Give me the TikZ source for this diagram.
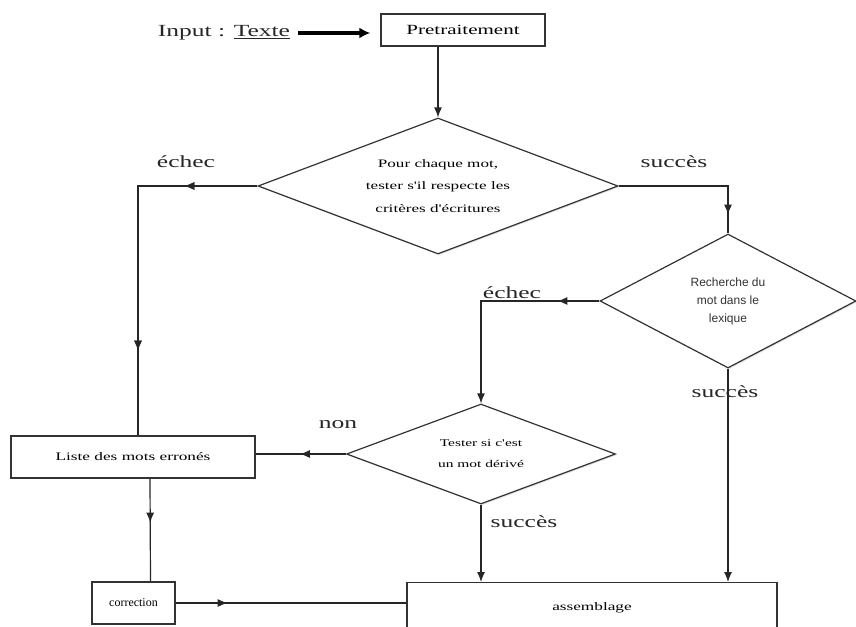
\documentclass[tikz,border=0pt]{standalone}
\usepackage{fontspec}
\setmainfont{Liberation Serif}
\newfontfamily\wf[FakeStretch=1.5]{Liberation Serif}
\newfontfamily\sanf{Liberation Sans}
\usetikzlibrary{shapes.geometric,arrows.meta,decorations.markings,shadows}
\tikzset{
  lnk/.style={line width=1.2pt, draw=black!85},
  tipend/.style={-{Latex[length=10pt,width=8pt]}},
  midtip/.style={postaction={decorate},decoration={markings,
     mark=at position #1 with {\arrow{Latex[length=10pt,width=8pt]}}}},
  boxx/.style={draw=black!80, line width=1.3pt, fill=white, inner sep=0pt,
     drop shadow={opacity=0.25, shadow xshift=1.2pt, shadow yshift=-1.2pt}},
  dia/.style={diamond, draw=black!80, line width=1.2pt, fill=white, inner sep=0pt,
     drop shadow={opacity=0.25, shadow xshift=1.2pt, shadow yshift=-1.2pt}},
  lab/.style={font=\wf\fontsize{17}{20}\selectfont, text=black!85, inner sep=0pt},
}
\begin{document}
\begin{tikzpicture}[x=1pt,y=-1pt]
\useasboundingbox (0,0) rectangle (856,626);
% nodes
\node[inner sep=0pt, font=\wf\fontsize{17}{20}\selectfont, text=black!85] (inp) at (224,33) {Input : \underline{Texte}};
\node[boxx, minimum width=164pt, minimum height=32pt, font=\wf\fontsize{14}{16}\selectfont] (pre) at (463,30) {Pretraitement};
\node[dia, minimum width=360pt, minimum height=136pt, shape aspect=2.65, align=center,
      font=\wf\fontsize{11.4}{22.5}\selectfont] (d1) at (438,186)
      {Pour chaque mot,\\tester s'il respecte les\\critères d'écritures};
\node[dia, minimum width=256pt, minimum height=134pt, shape aspect=1.91, align=center,
      font=\sanf\fontsize{12}{18}\selectfont, text=black!80] (d2) at (728,301)
      {Recherche du\\mot dans  le\\lexique};
\node[dia, minimum width=269pt, minimum height=100pt, shape aspect=2.69, align=center,
      font=\wf\fontsize{10.3}{21}\selectfont] (d3) at (481,454)
      {Tester si c'est\\un mot  dérivé};
\node[boxx, minimum width=244pt, minimum height=42pt, font=\wf\fontsize{11.5}{14}\selectfont] (liste) at (133,457) {Liste des mots erronés};
\node[boxx, minimum width=83pt, minimum height=42pt, font=\fontsize{12}{14}\selectfont] (corr) at (133.5,603) {correction};
\node[boxx, minimum width=370pt, minimum height=50pt, font=\wf\fontsize{11.5}{14}\selectfont, anchor=north] (asm) at (592,582) {\raisebox{-2pt}{assemblage}};
% labels
\node[lab] (l1) at (186,162) {échec};
\node[lab] (l2) at (674,162) {succès};
\node[lab] (l3) at (512,293) {échec};
\node[lab] (l4) at (725,392) {succès};
\node[lab] (l5) at (338,425) {non};
\node[lab] (l6) at (524,522) {succès};
% connectors
\draw[line width=3.5pt, -{Latex[length=11pt,width=11pt]}] ([xshift=8pt]inp.east) -- ([xshift=-10pt]inp.east -| pre.west);
\draw[lnk, tipend] (pre.south -| d1.north) -- (d1.north);
\draw[lnk, midtip=73pt, midtip=284pt] (d1.west) -| ([xshift=5pt]liste.north);
\draw[lnk, midtip=138pt] (d1.east) -| (d2.north);
\draw[lnk, tipend, midtip=42pt] (d2.west) -| (d3.north);
\draw[lnk, midtip=46pt] (d3.west) -- (d3.west -| liste.east);
\draw[lnk, tipend] (d3.south) -- (d3.south |- asm.north);
\draw[lnk, tipend] (d2.south) -- (d2.south |- asm.north);
\draw[lnk, midtip=44pt] ([xshift=17pt]liste.south) -- ([xshift=17pt]corr.north);
\draw[lnk, midtip=52pt] (corr.east) -- (corr.east -| asm.west);
\end{tikzpicture}
\end{document}
